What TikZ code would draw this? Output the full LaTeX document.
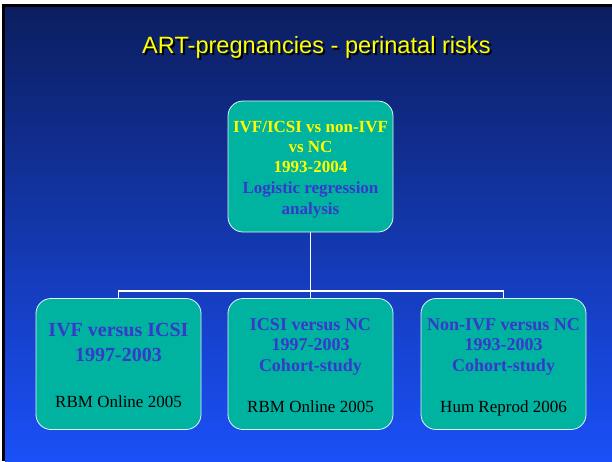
\documentclass[tikz,border=0pt]{standalone}
\usepackage{fontspec}
\setmainfont{Liberation Serif}
\newfontfamily\arialfont{Liberation Sans}
\definecolor{bgtop}{RGB}{12,30,96}
\definecolor{bgbot}{RGB}{26,80,248}
\definecolor{teal}{RGB}{0,178,160}
\definecolor{txtblue}{RGB}{56,56,204}
\definecolor{txtyellow}{RGB}{255,255,0}
\newcommand{\shadowtext}[1]{\rlap{\kern2pt\raisebox{-2pt}{\color{black}#1}}#1}
\tikzset{
  box/.style={draw=white!90!teal, line width=0.8pt, fill=teal, rounded corners=15pt,
    minimum width=165pt, minimum height=131pt, inner sep=0pt},
  conn/.style={draw=white, line width=1.6pt},
  ttl/.style={font=\arialfont\fontsize{23.6}{28}\selectfont, anchor=base, inner sep=0pt},
  hd/.style={font=\bfseries\fontsize{17}{20}\selectfont, anchor=base, inner sep=0pt},
  hdbig/.style={font=\bfseries\fontsize{20}{24}\selectfont, anchor=base, inner sep=0pt, text=txtblue},
  hdmid/.style={font=\bfseries\fontsize{18}{22}\selectfont, anchor=base, inner sep=0pt, text=txtblue},
  ref/.style={font=\fontsize{17}{20}\selectfont, anchor=base, inner sep=0pt, text=black}
}
\begin{document}
\begin{tikzpicture}[x=1pt,y=-1pt]
\useasboundingbox (0,0) rectangle (612,461);
\fill[white] (0,0) rectangle (612,461);
\fill[black] (2,4) rectangle (612,461);
\shade[top color=bgtop, bottom color=bgbot] (5,7) rectangle (612,461);
% title with drop shadow
\node[ttl, text=txtyellow] (title) at (316.4,53.5) {\shadowtext{ART-pregnancies - perinatal risks}};
% boxes
\node[box] (top) at (310.5,166.5) {};
\node[box] (b1) at (118.5,364) {};
\node[box] (b2) at (310.5,364) {};
\node[box] (b3) at (503.5,364) {};
% connectors
\draw[conn] (top.south) -- (b2.north);
\draw[conn] (b1.north) -- ++(0,-7) -| (b3.north);
% top box text
\node[hd, text=txtyellow] (t1) at (310.5,132.3) {IVF/ICSI vs non-IVF};
\node[hd, text=txtyellow] (t2) at (310.5,152.5) {vs NC};
\node[hd, text=txtyellow] (t3) at (310.5,172.8) {1993-2004};
\node[hd, text=txtblue] (t4) at (310.5,193.3) {Logistic regression};
\node[hd, text=txtblue] (t5) at (310.5,214) {analysis};
% box 1 text
\node[hdbig] (a1) at (118.5,336.7) {IVF versus ICSI};
\node[hdbig] (a2) at (118.5,361.7) {1997-2003};
\node[ref] (a3) at (118.5,407.7) {RBM Online 2005};
% box 2 text
\node[hdmid] (c1) at (310.5,330) {ICSI versus NC};
\node[hdmid] (c2) at (310.5,350.7) {1997-2003};
\node[hdmid] (c3) at (310.5,371.7) {Cohort-study};
\node[ref] (c4) at (310.5,412.7) {RBM Online 2005};
% box 3 text
\node[hdmid] (d1) at (503.5,330) {Non-IVF versus NC};
\node[hdmid] (d2) at (503.5,350.7) {1993-2003};
\node[hdmid] (d3) at (503.5,371.7) {Cohort-study};
\node[ref] (d4) at (503.5,412.7) {Hum Reprod 2006};
\end{tikzpicture}
\end{document}
